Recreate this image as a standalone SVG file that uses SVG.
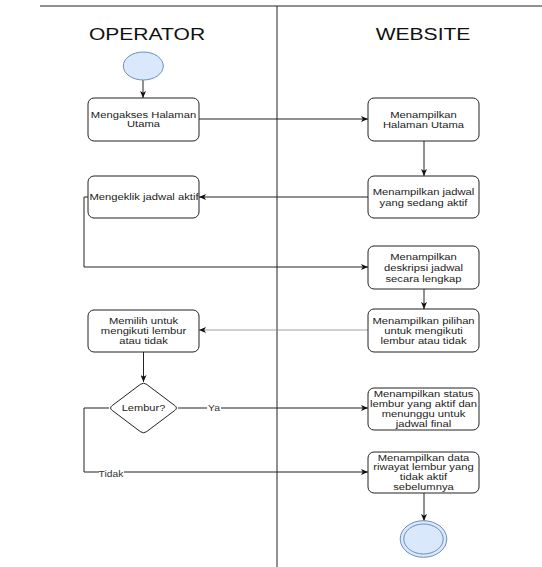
<svg xmlns="http://www.w3.org/2000/svg" width="542" height="567" viewBox="0 0 542 567">
<style>
  .box{fill:#ffffff;stroke:#222;stroke-width:1}
  .t{font-family:"Liberation Sans",Arial,sans-serif;font-size:9.2px;fill:#222;text-anchor:middle}
  .title{font-family:"Liberation Sans",Arial,sans-serif;font-size:17px;fill:#111;text-anchor:middle}
  .lbl{font-family:"Liberation Sans",Arial,sans-serif;font-size:8.6px;fill:#333;text-anchor:middle}
  .edge{fill:none;stroke:#222;stroke-width:1}
  .thin{fill:none;stroke:#888;stroke-width:0.8}
  .lane{stroke:#222;stroke-width:1}
</style>
<defs>
  <marker id="arr" viewBox="0 0 7 6" refX="7" refY="3" markerWidth="7" markerHeight="6" markerUnits="userSpaceOnUse" orient="auto">
    <path d="M0,0 L7,3 L0,6 L1.8,3 z" fill="#111"/>
  </marker>
</defs>
<rect x="0" y="0" width="542" height="567" fill="#ffffff"/>
<g id="lanes">
  <line class="lane" x1="40" y1="6" x2="542" y2="6" stroke-width="1.5"/>
  <line class="lane" x1="277" y1="6" x2="277" y2="567"/>
  <text class="title" transform="translate(147,40) scale(1.24,1)">OPERATOR</text>
  <text class="title" transform="translate(423,40) scale(1.24,1)">WEBSITE</text>
</g>
<g id="connectors">
  <line class="edge" x1="143" y1="80" x2="143" y2="98" marker-end="url(#arr)"/>
  <line class="edge" x1="199" y1="119" x2="368" y2="119" marker-end="url(#arr)"/>
  <line class="edge" x1="424" y1="141" x2="424" y2="176" marker-end="url(#arr)"/>
  <line class="edge" x1="368" y1="197" x2="199" y2="197" marker-end="url(#arr)"/>
  <path class="edge" d="M88,197 H84 V267 H368" marker-end="url(#arr)"/>
  <line class="edge" x1="424" y1="289" x2="424" y2="309" marker-end="url(#arr)"/>
  <line class="thin" x1="368" y1="330" x2="199" y2="330" marker-end="url(#arr)"/>
  <line class="edge" x1="143.5" y1="352" x2="143.5" y2="382" marker-end="url(#arr)"/>
  <line class="edge" x1="178" y1="408" x2="368" y2="408" marker-end="url(#arr)"/>
  <path class="edge" d="M109,408 H84 V472 H368" marker-end="url(#arr)"/>
  <line class="edge" x1="424" y1="493" x2="424" y2="521" marker-end="url(#arr)"/>
  <rect x="207" y="403" width="14" height="10" fill="#ffffff"/>
  <text class="lbl" transform="translate(214,411) scale(1.2,1)">Ya</text>
  <rect x="99" y="469" width="25" height="10" fill="#ffffff"/>
  <text class="lbl" transform="translate(111,477) scale(1.2,1)">Tidak</text>
</g>
<g id="start">
  <ellipse cx="143.3" cy="66" rx="20" ry="14" fill="#dae8fc" stroke="#6c8ebf" stroke-width="1"/>
</g>
<g id="op1">
  <rect class="box" x="88" y="98" width="111" height="43" rx="6"/>
  <text class="t" transform="translate(143.5,117.5) scale(1.22,1)"><tspan x="0">Mengakses Halaman</tspan><tspan x="0" dy="10">Utama</tspan></text>
</g>
<g id="op2">
  <rect class="box" x="88" y="176" width="111" height="42" rx="6"/>
  <text class="t" transform="translate(144,200) scale(1.22,1)">Mengeklik jadwal aktif</text>
</g>
<g id="op3">
  <rect class="box" x="88" y="310" width="111" height="42" rx="6"/>
  <text class="t" transform="translate(143.5,324) scale(1.22,1)"><tspan x="0">Memilih untuk</tspan><tspan x="0" dy="10.2">mengikuti lembur</tspan><tspan x="0" dy="10.2">atau tidak</tspan></text>
</g>
<g id="decision">
  <path d="M146.7,384.4 L174.8,405.6 Q178,408 174.8,410.4 L146.7,431.6 Q143.5,434 140.3,431.6 L112.2,410.4 Q109,408 112.2,405.6 L140.3,384.4 Q143.5,382 146.7,384.4 Z" fill="#ffffff" stroke="#222" stroke-width="1"/>
  <text class="t" transform="translate(143.5,411) scale(1.2,1)">Lembur?</text>
</g>
<g id="web1">
  <rect class="box" x="368" y="98" width="111" height="43" rx="6"/>
  <text class="t" transform="translate(423.5,117.5) scale(1.22,1)"><tspan x="0">Menampilkan</tspan><tspan x="0" dy="10.7">Halaman Utama</tspan></text>
</g>
<g id="web2">
  <rect class="box" x="368" y="176" width="111" height="42" rx="6"/>
  <text class="t" transform="translate(423.5,194.5) scale(1.22,1)"><tspan x="0">Menampilkan jadwal</tspan><tspan x="0" dy="11.2">yang sedang aktif</tspan></text>
</g>
<g id="web3">
  <rect class="box" x="368" y="246" width="111" height="43" rx="6"/>
  <text class="t" transform="translate(423.5,260) scale(1.22,1)"><tspan x="0">Menampilkan</tspan><tspan x="0" dy="10.8">deskripsi jadwal</tspan><tspan x="0" dy="10.8">secara lengkap</tspan></text>
</g>
<g id="web4">
  <rect class="box" x="368" y="309" width="111" height="43" rx="6"/>
  <text class="t" transform="translate(423.5,324) scale(1.22,1)"><tspan x="0">Menampilkan pilihan</tspan><tspan x="0" dy="10.2">untuk mengikuti</tspan><tspan x="0" dy="10.2">lembur atau tidak</tspan></text>
</g>
<g id="web5">
  <rect class="box" x="368" y="388" width="111" height="42" rx="6"/>
  <text class="t" transform="translate(423.5,397) scale(1.22,1)"><tspan x="0">Menampilkan status</tspan><tspan x="0" dy="9.9">lembur yang aktif dan</tspan><tspan x="0" dy="9.9">menunggu untuk</tspan><tspan x="0" dy="9.9">jadwal final</tspan></text>
</g>
<g id="web6">
  <rect class="box" x="368" y="452" width="111" height="41" rx="6"/>
  <text class="t" transform="translate(423.5,460.5) scale(1.22,1)"><tspan x="0">Menampilkan data</tspan><tspan x="0" dy="10">riwayat lembur yang</tspan><tspan x="0" dy="10">tidak aktif</tspan><tspan x="0" dy="10">sebelumnya</tspan></text>
</g>
<g id="end">
  <ellipse cx="423.5" cy="539" rx="23.3" ry="18.3" fill="#dae8fc" stroke="#6c8ebf" stroke-width="1"/>
  <ellipse cx="423.5" cy="539" rx="19.7" ry="15" fill="#dae8fc" stroke="#6c8ebf" stroke-width="1"/>
</g>
</svg>
